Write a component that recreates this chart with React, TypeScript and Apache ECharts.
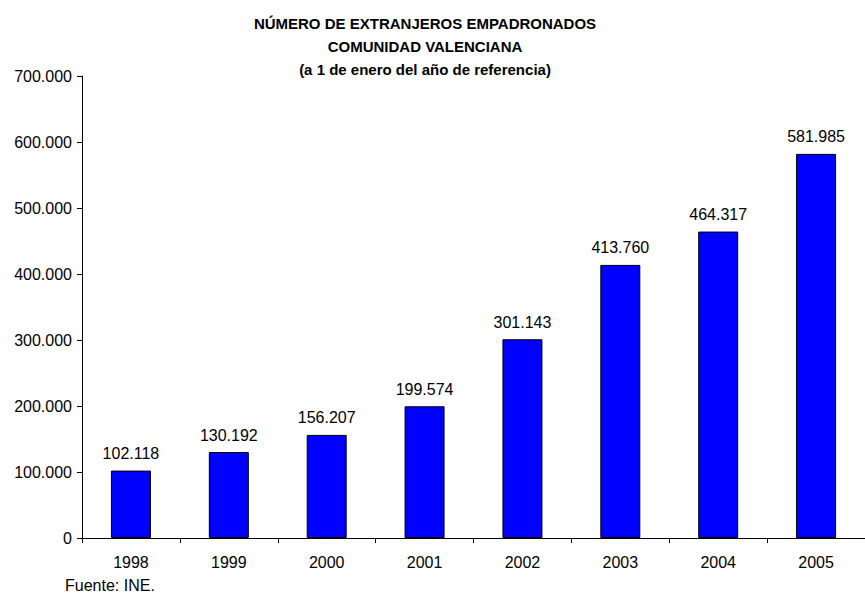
import React, { useEffect, useRef } from "react";
import * as echarts from "echarts";

const categories = ["1998", "1999", "2000", "2001", "2002", "2003", "2004", "2005"];
const values = [102118, 130192, 156207, 199574, 301143, 413760, 464317, 581985];
const titleLines = [
  "NÚMERO DE EXTRANJEROS EMPADRONADOS",
  "COMUNIDAD VALENCIANA",
  "(a 1 de enero del año de referencia)",
];
const sourceText = "Fuente: INE.";

const fmt = (v: number) => {
  const s = Math.round(v).toString();
  return s.replace(/\B(?=(\d{3})+(?!\d))/g, ".");
};

export default function App() {
  const ref = useRef<HTMLDivElement>(null);
  useEffect(() => {
    if (!ref.current) return;
    const chart = echarts.init(ref.current, undefined, { renderer: "svg" });
    const font = "'Liberation Sans', Arial, sans-serif";
    chart.setOption({
      animation: false,
      backgroundColor: "#ffffff",
      textStyle: { fontFamily: font },
      grid: { left: 82, right: -9, top: 76, bottom: 57 },
      graphic: [
        ...titleLines.map((t, i) => ({
          type: "text",
          x: 425,
          y: 23 + i * 23,
          style: {
            text: t,
            fontFamily: font,
            fontSize: 15,
            fontWeight: "bold",
            fill: "#000",
            textAlign: "center",
            textVerticalAlign: "middle",
          },
        })),
        {
          type: "text",
          x: 65,
          y: 585,
          style: {
            text: sourceText,
            fontFamily: font,
            fontSize: 16,
            fill: "#000",
            textAlign: "left",
            textVerticalAlign: "middle",
          },
        },
      ],
      xAxis: {
        type: "category",
        data: categories,
        axisLine: { lineStyle: { color: "#000", width: 1 } },
        axisTick: { show: true, length: 5, inside: false, lineStyle: { color: "#000" } },
        axisLabel: { color: "#000", fontSize: 16, fontFamily: font, margin: 16 },
      },
      yAxis: {
        type: "value",
        min: 0,
        max: 700000,
        interval: 100000,
        splitLine: { show: false },
        axisLine: { show: true, lineStyle: { color: "#000", width: 1 } },
        axisTick: { show: true, length: 5, lineStyle: { color: "#000" } },
        axisLabel: {
          color: "#000",
          fontSize: 16,
          fontFamily: font,
          margin: 10,
          formatter: (v: number) => fmt(v),
        },
      },
      series: [
        {
          type: "bar",
          data: values,
          barWidth: 40,
          itemStyle: { color: "#0000FF", borderColor: "#000", borderWidth: 1 },
          label: {
            show: true,
            position: "top",
            distance: 9,
            color: "#000",
            fontSize: 16,
            fontFamily: font,
            formatter: (p: any) => fmt(p.value),
          },
        },
      ],
    });
    return () => chart.dispose();
  }, []);
  return <div ref={ref} style={{ width: 865, height: 595, position: "absolute", left: 0, top: 0 }} />;
}
